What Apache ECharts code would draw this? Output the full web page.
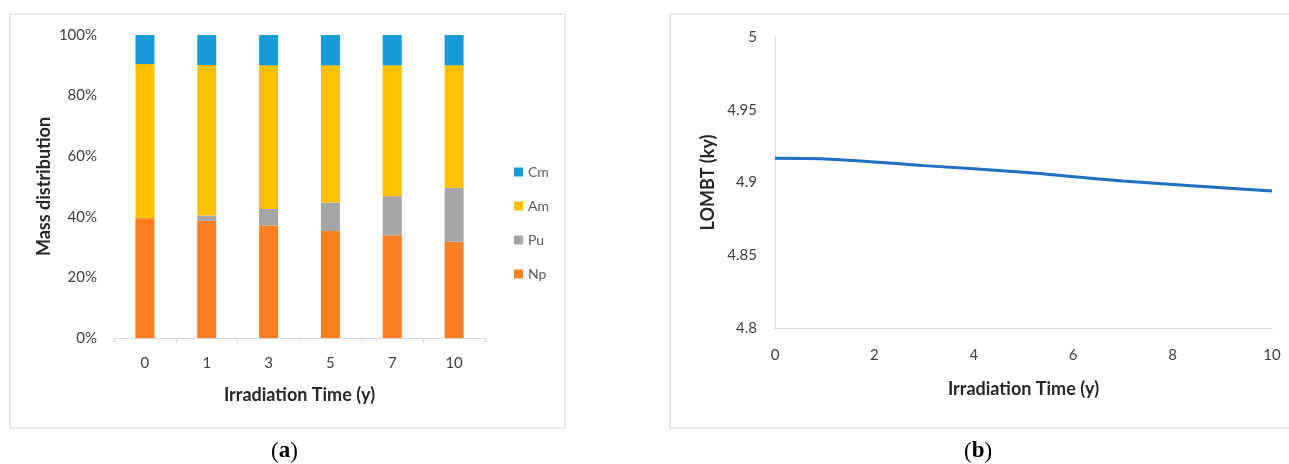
<!DOCTYPE html>
<html>
<head>
<meta charset="utf-8">
<script src="https://cdn.jsdelivr.net/npm/echarts@6/dist/echarts.min.js"></script>
<style>
  html,body{margin:0;padding:0;background:#fff;}
  #main{width:1289px;height:464px;}
</style>
</head>
<body>
<div id="main"></div>
<script>
// (a) mass distribution, % per element
var years = ['0', '1', '3', '5', '7', '10'];
var np = [39.5, 38.7, 37.1, 35.3, 33.9, 31.8];
var pu = [0, 1.7, 5.5, 9.4, 12.9, 17.8];
var am = [50.9, 49.7, 47.4, 45.3, 43.2, 40.4];
var cm = [9.6, 9.9, 10.0, 10.0, 10.0, 10.0];

// (b) LOMBT (ky) vs irradiation time
var lineX = [0, 1, 3, 5, 7, 10];
var lombt = [4.9166, 4.9162, 4.9116, 4.907, 4.901, 4.8942];

var font = 'Lato, "Open Sans", sans-serif';
var labelColor = '#404040';
var lineGrey = '#d9d9d9';

var chart = echarts.init(document.getElementById('main'));

function barSeries(name, data, color){
    return {
        name: name,
        type: 'bar',
        stack: 'mass',
        xAxisIndex: 0,
        yAxisIndex: 0,
        barWidth: 19,
        itemStyle: {color: color},
        data: data
    };
}

var capFont = '"Liberation Serif", serif';

var option = {
    animation: false,
    backgroundColor: '#fff',
    textStyle: {fontFamily: font},
    graphic: [
        {type: 'rect', shape: {x: 10, y: 14, width: 555, height: 414},
         style: {fill: 'none', stroke: '#e3e3e3', lineWidth: 1.5}},
        {type: 'rect', shape: {x: 670, y: 14, width: 640, height: 414},
         style: {fill: 'none', stroke: '#e3e3e3', lineWidth: 1.5}},
        {type: 'text', left: 271, top: 440,
         style: {text: '({b|a})', font: '23px ' + capFont, fill: '#000',
                 rich: {b: {fontWeight: 'bold', fontSize: 23, fontFamily: capFont}}}},
        {type: 'text', left: 964, top: 440,
         style: {text: '({b|b})', font: '23px ' + capFont, fill: '#000',
                 rich: {b: {fontWeight: 'bold', fontSize: 23, fontFamily: capFont}}}}
    ],
    legend: {
        data: ['Cm', 'Am', 'Pu', 'Np'],
        orient: 'vertical',
        left: 509,
        top: 160,
        itemWidth: 9,
        itemHeight: 9,
        itemGap: 20,
        icon: 'rect',
        textStyle: {color: '#595959', fontSize: 14, fontFamily: font}
    },
    grid: [
        {left: 114, right: 804, top: 35, bottom: 126},
        {left: 775, right: 17, top: 37, bottom: 136}
    ],
    xAxis: [
        {
            type: 'category',
            gridIndex: 0,
            data: years,
            name: 'Irradiation Time (y)',
            nameLocation: 'middle',
            nameGap: 48,
            nameTextStyle: {fontWeight: 'bold', fontSize: 18, color: '#262626'},
            axisLine: {lineStyle: {color: lineGrey}},
            axisTick: {show: true, length: 5, lineStyle: {color: lineGrey}},
            axisLabel: {color: labelColor, fontSize: 15, margin: 18}
        },
        {
            type: 'value',
            gridIndex: 1,
            min: 0,
            max: 10,
            interval: 2,
            name: 'Irradiation Time (y)',
            nameLocation: 'middle',
            nameGap: 52,
            nameTextStyle: {fontWeight: 'bold', fontSize: 18, color: '#262626'},
            axisLine: {show: true, lineStyle: {color: lineGrey}},
            axisTick: {show: false},
            splitLine: {show: false},
            axisLabel: {color: labelColor, fontSize: 15, margin: 20}
        }
    ],
    yAxis: [
        {
            type: 'value',
            gridIndex: 0,
            min: 0,
            max: 100,
            interval: 20,
            name: 'Mass distribution',
            nameLocation: 'middle',
            nameGap: 61,
            nameTextStyle: {fontWeight: 'bold', fontSize: 18, color: '#262626'},
            axisLine: {show: false},
            axisTick: {show: false},
            splitLine: {show: false},
            axisLabel: {color: labelColor, fontSize: 15, margin: 17, formatter: '{value}%'}
        },
        {
            type: 'value',
            gridIndex: 1,
            min: 4.8,
            max: 5,
            interval: 0.05,
            name: 'LOMBT (ky)',
            nameLocation: 'middle',
            nameGap: 58,
            nameTextStyle: {fontWeight: 'bold', fontSize: 18, color: '#262626'},
            axisLine: {show: true, lineStyle: {color: lineGrey}},
            axisTick: {show: false},
            splitLine: {show: false},
            axisLabel: {color: labelColor, fontSize: 15, margin: 18}
        }
    ],
    series: [
        barSeries('Np', np, '#fd7f23'),
        barSeries('Pu', pu, '#a5a5a5'),
        barSeries('Am', am, '#ffc000'),
        barSeries('Cm', cm, '#179bd7'),
        {
            name: 'LOMBT',
            type: 'line',
            xAxisIndex: 1,
            yAxisIndex: 1,
            smooth: 0.3,
            showSymbol: false,
            lineStyle: {color: '#1f6fc5', width: 3},
            data: lineX.map(function(x, i){ return [x, lombt[i]]; })
        }
    ]
};

chart.setOption(option);
</script>
</body>
</html>
